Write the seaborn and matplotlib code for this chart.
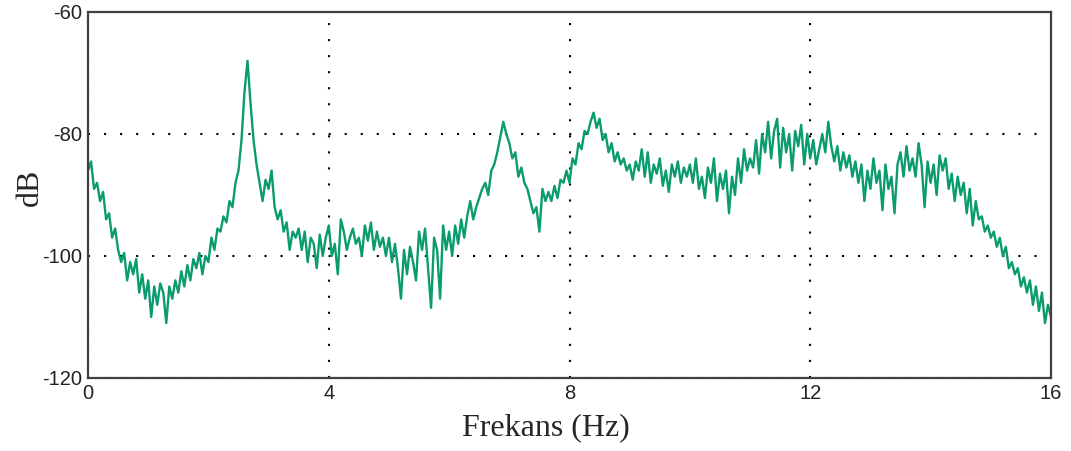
import numpy as np
import pandas as pd
import seaborn as sns
import matplotlib.pyplot as plt

# spectrum values, 0.05 Hz apart
freq = np.round(np.arange(0, 16.0001, 0.05), 2)
db_0_4 = [
    -86, -84.5, -89, -88, -91, -89.5, -94, -93, -97, -95.5,
    -99, -101, -99.5, -104, -101, -103, -100.5, -106, -103, -107,
    -104, -110, -105, -108, -104.5, -106, -111, -105, -107, -104,
    -106, -102.5, -105, -101.5, -104, -100.5, -102, -99.5, -103, -100,
    -101, -97, -99, -95.5, -96, -93.5, -94.5, -91, -92, -88,
    -86, -81, -73, -68, -75, -81, -85, -88, -91, -87.5,
    -89, -86, -92, -94, -92.5, -96, -94.5, -99, -96, -97,
    -95.5, -99, -96, -101, -97, -98, -102, -96.5, -100, -97,
]
db_4_8 = [
    -95, -100, -98, -103, -94, -96, -99, -97, -95.5, -98,
    -97, -100, -95, -97.5, -94.5, -99, -96, -98.5, -97, -100,
    -97, -101, -98, -102, -107, -99, -103, -98.5, -101, -104,
    -96, -99, -95.5, -102, -108.5, -97, -99, -107, -95, -99,
    -96, -100, -95, -98, -94, -97, -93.5, -91, -94, -92,
    -90.5, -89, -88, -90, -86, -85, -83, -80.5, -78, -80,
    -81.5, -84, -83, -87, -85.5, -88, -89, -91, -93, -92,
    -96, -89, -91, -89.5, -91, -88.5, -90.5, -87.5, -88, -86,
]
db_8_12 = [
    -88, -84, -85, -81.5, -82.5, -79.5, -80, -78, -76.5, -79,
    -77.5, -81, -80, -83, -81.5, -84.5, -83, -85, -84, -86,
    -85, -87.5, -84.5, -86, -82.5, -87, -83, -88, -85, -86.5,
    -84, -88.5, -86, -89.5, -85, -87, -84.5, -88, -85.5, -87,
    -85, -88, -84, -89, -87, -90.5, -85.5, -88, -84, -91,
    -86.5, -89, -86, -93, -87, -90, -84, -88, -82.5, -86,
    -84, -85.5, -81, -86.5, -80, -83, -78, -84, -79.5, -77.5,
    -85.5, -79, -83, -80, -86, -79.5, -82, -78.5, -85, -80,
]
db_12_16 = [
    -84, -81, -85, -82.5, -80, -83, -78, -82, -84.5, -82,
    -86, -83, -85.5, -83.5, -87, -84.5, -88, -85, -91, -86,
    -89, -84, -88, -86, -92.5, -85, -89, -87, -93, -85,
    -83, -87, -82, -86, -84, -87, -81.5, -85, -92, -84.5,
    -88, -85, -90, -83.5, -86, -84, -89, -86.5, -91, -87,
    -90, -88, -93, -89, -95, -91, -94, -93.5, -96, -95,
    -97, -96, -98.5, -97, -100, -98.5, -102, -101, -103, -102,
    -105, -103.5, -106, -104, -108, -105, -109, -106, -111, -108,
    -110,
]
x_ticks = [0, 4, 8, 12, 16]
y_ticks = [-120, -100, -80, -60]

df = pd.DataFrame({"freq": freq, "db": db_0_4 + db_4_8 + db_8_12 + db_12_16})

sns.set_style("white")
plt.rcParams["font.family"] = ["Liberation Sans", "DejaVu Sans"]
plt.rcParams["axes.unicode_minus"] = False

fig = plt.figure(figsize=(10.71, 4.51), dpi=100)
ax = fig.add_axes([0.0822, 0.1619, 0.8991, 0.8115])

sns.lineplot(data=df, x="freq", y="db", color="#0a9b6e", linewidth=1.7, ax=ax)

ax.set_xlim(0, 16)
ax.set_ylim(-120, -60)
ax.set_xticks(x_ticks)
ax.set_yticks(y_ticks)
ax.tick_params(length=0, labelsize=14.5, colors="#222222", pad=4)
ax.grid(True, color="black", linestyle=(0, (1, 6.7)), linewidth=1.5)

for s in ax.spines.values():
    s.set_color("#404040")
    s.set_linewidth(1.6)

ax.set_xlabel("Frekans (Hz)", family=["Liberation Serif"], fontsize=23,
              labelpad=8, x=0.4756)
ax.set_ylabel("dB", family=["Liberation Serif"], fontsize=23,
              labelpad=-2, y=0.52)

fig.savefig("out.png", dpi=100)
